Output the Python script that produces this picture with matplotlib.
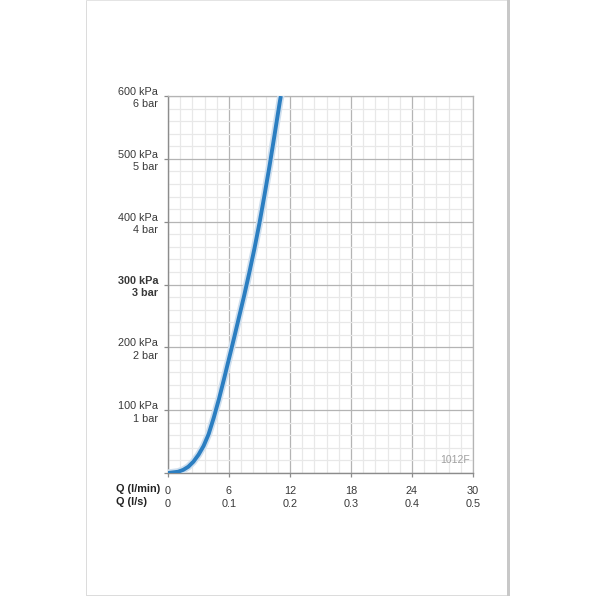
import matplotlib
matplotlib.use("Agg")
import matplotlib.pyplot as plt
from matplotlib.patches import Rectangle
from matplotlib.ticker import MultipleLocator

plt.rcParams['font.family'] = ['Liberation Sans', 'DejaVu Sans']

# flow (l/min) and pressure drop (kPa)
flow = [0, 0.5, 1, 1.5, 2, 2.5, 3, 3.5, 4, 4.5, 5, 5.5, 6, 6.5, 7, 7.5, 8,
        8.5, 9, 9.5, 10, 10.5, 11, 11.1]
pressure = [0, 1, 2, 5, 10, 18, 29, 43, 62, 88, 117, 149, 182, 215, 249, 283,
            319, 357, 398, 443, 490, 540, 591, 600]

q_min_ticks = [0, 6, 12, 18, 24, 30]
q_sec_labels = ["0", "0.1", "0.2", "0.3", "0.4", "0.5"]
kpa_ticks = [0, 100, 200, 300, 400, 500, 600]
bar_labels = ["", "1 bar", "2 bar", "3 bar", "4 bar", "5 bar", "6 bar"]

W = 596
fig = plt.figure(figsize=(5.96, 5.96), dpi=100)
fig.patch.set_facecolor("white")

# page frame
fig.add_artist(Rectangle((86 / W, 0), 1 / W, 1, transform=fig.transFigure,
                         color="#dcdcdc", lw=0))
fig.add_artist(Rectangle((507 / W, 0), 3 / W, 1, transform=fig.transFigure,
                         color="#c8c8c8", lw=0))
fig.add_artist(Rectangle((86 / W, 1 - 1 / W), 421 / W, 1 / W, transform=fig.transFigure,
                         color="#e4e4e4", lw=0))
fig.add_artist(Rectangle((86 / W, 0), 421 / W, 1.2 / W, transform=fig.transFigure,
                         color="#dcdcdc", lw=0))

ax = fig.add_axes([168 / W, 1 - 473 / W, 305 / W, 377 / W])
ax.set_xlim(0, 30)
ax.set_ylim(0, 600)

ax.xaxis.set_minor_locator(MultipleLocator(1.2))
ax.yaxis.set_minor_locator(MultipleLocator(20))
ax.grid(which="minor", color="#e8e8e8", lw=0.9)
ax.grid(which="major", color="#b4b4b4", lw=0.9)
ax.set_axisbelow(True)

for s in ["left", "bottom"]:
    ax.spines[s].set_color("#8c8c8c")
    ax.spines[s].set_linewidth(1.0)
for s in ["right", "top"]:
    ax.spines[s].set_color("#b4b4b4")
    ax.spines[s].set_linewidth(0.9)

ax.set_xticks(q_min_ticks)
ax.set_xticklabels([f"{a}\n{b}" for a, b in zip(q_min_ticks, q_sec_labels)],
                   linespacing=1.3)
ax.set_yticks(kpa_ticks)
ax.set_yticklabels(["" if k == 0 else f"{k} kPa\n{b}" for k, b in zip(kpa_ticks, bar_labels)],
                   linespacing=1.3)
ax.tick_params(which="major", length=3, width=0.9, color="#8c8c8c",
               labelsize=7.8, labelcolor="#383838")
ax.tick_params(axis="x", pad=6.5)
ax.tick_params(axis="y", pad=4)
ax.tick_params(which="minor", length=0)
ax.get_yticklabels()[3].set_fontweight("bold")

# curve with soft shadow
ax.plot(flow, pressure, color="#cfdfee", lw=5.2, solid_joinstyle="round", zorder=3)
ax.plot(flow, pressure, color="#2b7ec1", lw=2.8, solid_capstyle="butt",
        solid_joinstyle="round", zorder=4)

ax.text(29.7, 12, "1012F", ha="right", va="bottom", fontsize=7.5, color="#a0a0a0")

fig.text(116 / W, 1 - 489 / W, "Q (l/min)", ha="left", va="center",
         fontsize=7.8, fontweight="bold", color="#222222")
fig.text(116 / W, 1 - 502 / W, "Q (l/s)", ha="left", va="center",
         fontsize=7.8, fontweight="bold", color="#222222")

fig.savefig("out.png", dpi=100, facecolor="white")
